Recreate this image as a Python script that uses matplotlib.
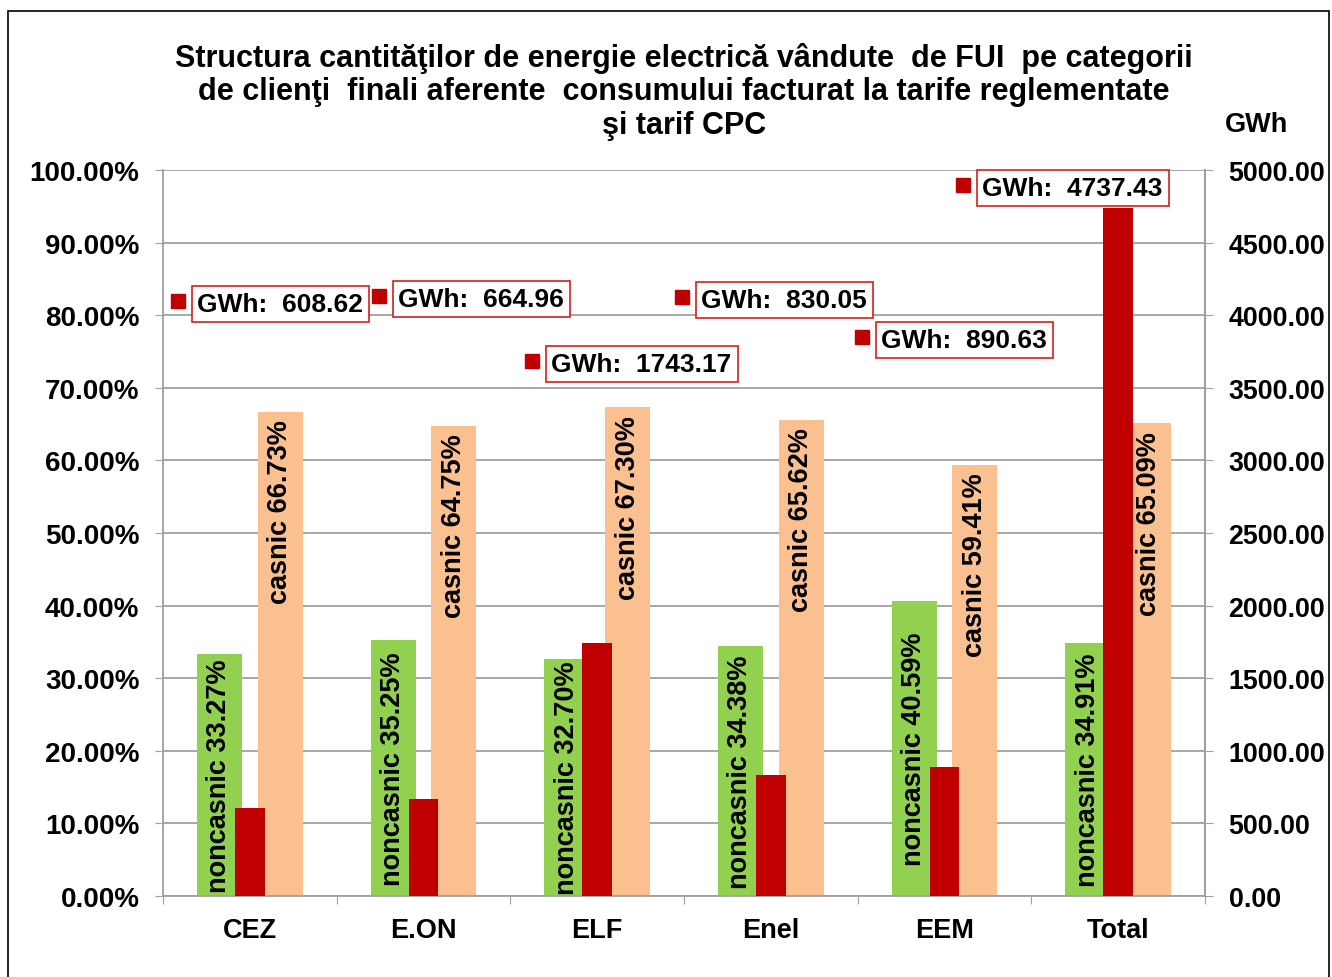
import matplotlib
matplotlib.use('Agg')
import matplotlib.pyplot as plt
import numpy as np
from matplotlib.patches import Rectangle
from matplotlib.ticker import FormatStrFormatter

plt.rcParams['font.family'] = ['Liberation Sans', 'DejaVu Sans']
plt.rcParams['font.weight'] = 'bold'

categories = ['CEZ', 'E.ON', 'ELF', 'Enel', 'EEM', 'Total']
noncasnic = [33.27, 35.25, 32.70, 34.38, 40.59, 34.91]
casnic = [66.73, 64.75, 67.30, 65.62, 59.41, 65.09]
gwh = [608.62, 664.96, 1743.17, 830.05, 890.63, 4737.43]
# where the GWh labels sit (category units, % axis) - they are scattered like in the original
label_x = [-0.414, 0.744, 1.625, 2.488, 3.525, 4.106]
label_y = [81.9, 82.6, 73.7, 82.5, 77.0, 97.9]

GREEN = '#92D050'
RED = '#C00000'
PEACH = '#FAC090'
GRID = '#A0A0A0'

title_lines = ['Structura cantităţilor de energie electrică vândute  de FUI  pe categorii',
               'de clienţi  finali aferente  consumului facturat la tarife reglementate',
               'şi tarif CPC']

fig = plt.figure(figsize=(13.32, 9.78), dpi=100)
ax = fig.add_axes([163 / 1332, 81 / 978, 1042 / 1332, 726 / 978])
ax2 = ax.twinx()

x = np.arange(len(categories))
ax.bar(x - 0.175, noncasnic, 0.26, color=GREEN, zorder=2)
ax.bar(x + 0.175, casnic, 0.26, color=PEACH, zorder=2)
ax2.bar(x, gwh, 0.17, color=RED)

# labels inside the bars
for i in range(len(categories)):
    ax.text(x[i] - 0.175, noncasnic[i] / 2, 'noncasnic %.2f%%' % noncasnic[i], rotation=90,
            ha='center', va='center', fontsize=19.5, zorder=3)
    ax.text(x[i] + 0.175, casnic[i] - 1.0, 'casnic %.2f%%' % casnic[i], rotation=90,
            ha='center', va='top', fontsize=19.5, zorder=3)

# GWh labels with legend-key squares
for i in range(len(categories)):
    ax2.plot(label_x[i], label_y[i], 's', transform=ax.transData, ms=9.5, color=RED, clip_on=False)
    ax2.annotate('GWh:  %.2f' % gwh[i], xy=(label_x[i], label_y[i]), xycoords=ax.transData,
                 xytext=(14, -2), textcoords='offset points', ha='left', va='center', fontsize=19,
                 bbox=dict(boxstyle='square,pad=0.22', fc='white', ec='#D02020', lw=1.2))

ax.set_xlim(-0.5, 5.5)
ax.set_ylim(0, 100)
ax2.set_ylim(0, 5000)

ax.set_xticks(np.arange(-0.5, 6, 1))
ax.set_xticklabels([])
ax.set_xticks(x, minor=True)
ax.set_xticklabels(categories, minor=True, fontsize=19.5)
ax.tick_params(axis='x', which='major', length=6, color=GRID, direction='out')
ax.tick_params(axis='x', which='minor', length=0, pad=15)

ax.set_yticks(np.arange(0, 101, 10))
ax.yaxis.set_major_formatter(FormatStrFormatter('%.2f%%'))
ax.tick_params(axis='y', length=6, color=GRID, pad=11, labelsize=20)
ax2.set_yticks(np.arange(0, 5001, 500))
ax2.yaxis.set_major_formatter(FormatStrFormatter('%.2f'))
ax2.tick_params(axis='y', length=6, color=GRID, pad=11, labelsize=19.3)

ax.grid(axis='y', color=GRID, lw=1.3)
ax.set_axisbelow(True)
for a in (ax, ax2):
    a.spines['top'].set_visible(False)
    for s in ('left', 'right', 'bottom'):
        a.spines[s].set_color(GRID)
        a.spines[s].set_linewidth(1.3)
ax2.spines['left'].set_visible(False)
ax2.spines['bottom'].set_visible(False)

title_y = [58, 92, 126]
for line, yy in zip(title_lines, title_y):
    fig.text(684 / 1332, 1 - yy / 978, line, ha='center', va='center', fontsize=22)
fig.text(1257 / 1332, 1 - 125 / 978, 'GWh', ha='center', va='center', fontsize=19.5)

fig.add_artist(Rectangle((8 / 1332, -0.05), 1321 / 1332, (978 - 12) / 978 + 0.05,
                         transform=fig.transFigure, fill=False, ec='black', lw=1.2))

fig.savefig('out.png', dpi=100)
